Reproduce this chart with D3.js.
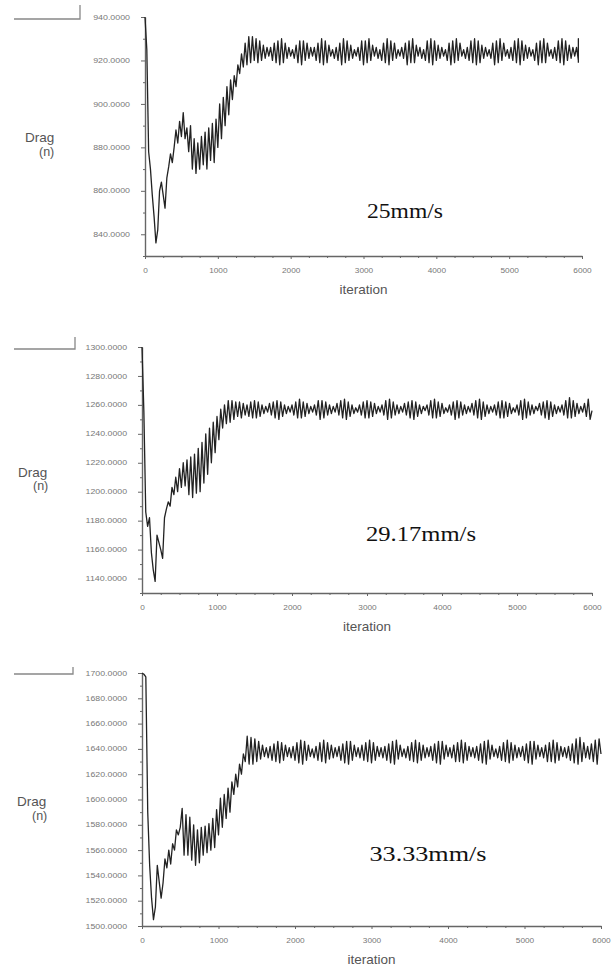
<!DOCTYPE html>
<html>
<head>
<meta charset="utf-8">
<script src="https://cdn.jsdelivr.net/npm/d3@7"></script>
<style>
  body { margin: 0; background: #fff; }
  svg { display: block; }
</style>
</head>
<body>
<div id="chart"></div>
<script>
// iteration spacing of the sampled drag values
const iterStep = 25;
const xTicks = [0, 1000, 2000, 3000, 4000, 5000, 6000];

// 25 mm/s
const drag25 = [
  940, 925, 878, 870, 858, 848, 836, 842, 860, 864, 858, 852,
  866, 871, 877, 873, 880, 888, 882, 892, 885, 896, 884, 889,
  878, 890, 870, 884, 868, 882, 870, 885, 872, 887, 870, 889,
  874, 891, 873, 893, 880, 900, 884, 903, 890, 908, 895, 911,
  902, 913, 908, 918, 914, 923, 917, 928, 918, 931, 919, 931,
  920, 930, 919, 929, 920, 927, 921, 926, 922, 926, 920, 928,
  919, 929, 918, 930, 919, 928, 921, 926, 922, 925, 921, 927,
  919, 929, 918, 929, 920, 928, 921, 926, 922, 926, 920, 928,
  919, 930, 918, 929, 919, 927, 922, 925, 921, 926, 920, 928,
  918, 930, 919, 929, 920, 927, 921, 925, 922, 926, 920, 929,
  918, 929, 919, 930, 920, 927, 922, 926, 921, 925, 920, 928,
  919, 930, 918, 929, 920, 928, 921, 925, 922, 926, 921, 928,
  918, 929, 919, 930, 919, 927, 922, 926, 921, 925, 920, 929,
  919, 930, 918, 929, 920, 927, 921, 926, 922, 925, 920, 928,
  918, 929, 919, 930, 920, 928, 922, 925, 921, 926, 920, 929,
  919, 930, 918, 929, 919, 927, 921, 926, 922, 925, 921, 928,
  918, 929, 919, 930, 920, 928, 922, 925, 921, 926, 920, 929,
  919, 930, 918, 929, 920, 927, 921, 926, 922, 925, 920, 928,
  918, 929, 919, 930, 919, 928, 922, 925, 921, 926, 920, 929,
  919, 930, 918, 929, 920, 927, 921, 926, 922, 926, 920, 930,
  919
];
const yTicks25 = [840, 860, 880, 900, 920, 940];

// 29.17 mm/s
const drag29 = [
  1300, 1255, 1186, 1176, 1182, 1158, 1146, 1138, 1170, 1165, 1160, 1154,
  1182, 1188, 1193, 1190, 1203, 1198, 1210, 1200, 1216, 1203, 1220, 1204,
  1222, 1198, 1224, 1196, 1226, 1199, 1230, 1200, 1234, 1206, 1240, 1212,
  1244, 1220, 1248, 1227, 1252, 1236, 1257, 1244, 1260, 1247, 1263, 1248,
  1263, 1250, 1262, 1252, 1262, 1251, 1261, 1253, 1260, 1252, 1262, 1251,
  1263, 1251, 1262, 1252, 1260, 1254, 1259, 1255, 1261, 1253, 1262, 1251,
  1263, 1250, 1262, 1252, 1260, 1254, 1259, 1255, 1260, 1253, 1262, 1251,
  1264, 1251, 1262, 1252, 1261, 1254, 1259, 1255, 1260, 1253, 1263, 1250,
  1263, 1251, 1262, 1253, 1260, 1254, 1259, 1255, 1261, 1253, 1263, 1251,
  1264, 1250, 1262, 1252, 1260, 1254, 1258, 1255, 1260, 1253, 1262, 1251,
  1263, 1251, 1262, 1252, 1261, 1254, 1259, 1255, 1260, 1253, 1263, 1250,
  1264, 1251, 1262, 1253, 1260, 1254, 1259, 1255, 1261, 1253, 1262, 1251,
  1263, 1250, 1262, 1252, 1260, 1254, 1259, 1256, 1260, 1253, 1263, 1251,
  1264, 1251, 1262, 1252, 1261, 1254, 1258, 1255, 1260, 1253, 1262, 1250,
  1263, 1251, 1262, 1253, 1260, 1254, 1259, 1255, 1261, 1253, 1263, 1251,
  1264, 1250, 1262, 1252, 1260, 1254, 1259, 1255, 1260, 1253, 1262, 1251,
  1263, 1251, 1262, 1252, 1261, 1254, 1258, 1255, 1260, 1253, 1263, 1250,
  1264, 1251, 1262, 1253, 1260, 1254, 1259, 1256, 1261, 1253, 1262, 1251,
  1263, 1250, 1262, 1252, 1260, 1254, 1259, 1255, 1260, 1253, 1263, 1251,
  1265, 1251, 1263, 1252, 1261, 1254, 1259, 1255, 1261, 1252, 1264, 1250,
  1256
];
const yTicks29 = [1140, 1160, 1180, 1200, 1220, 1240, 1260, 1280, 1300];

// 33.33 mm/s
const drag33 = [
  1700, 1699, 1697, 1590, 1548, 1522, 1505, 1515, 1548, 1535, 1522, 1534,
  1553, 1546, 1560, 1549, 1565, 1560, 1576, 1572, 1578, 1593, 1556, 1588,
  1556, 1586, 1552, 1580, 1548, 1576, 1550, 1578, 1556, 1579, 1558, 1581,
  1560, 1585, 1562, 1592, 1572, 1601, 1578, 1604, 1585, 1609, 1590, 1614,
  1604, 1620, 1610, 1628, 1620, 1636, 1630, 1650, 1628, 1649, 1628, 1648,
  1630, 1646, 1632, 1643, 1634, 1641, 1633, 1642, 1631, 1644, 1630, 1646,
  1629, 1645, 1631, 1643, 1634, 1641, 1633, 1642, 1631, 1645, 1629, 1647,
  1628, 1646, 1631, 1643, 1634, 1640, 1633, 1642, 1631, 1645, 1630, 1647,
  1629, 1645, 1632, 1643, 1633, 1641, 1634, 1642, 1631, 1644, 1629, 1646,
  1628, 1646, 1631, 1643, 1634, 1641, 1633, 1643, 1631, 1645, 1630, 1647,
  1629, 1645, 1631, 1642, 1634, 1641, 1633, 1642, 1631, 1644, 1629, 1646,
  1628, 1647, 1632, 1643, 1634, 1640, 1633, 1642, 1631, 1645, 1630, 1647,
  1629, 1645, 1631, 1643, 1633, 1641, 1634, 1642, 1631, 1644, 1629, 1646,
  1628, 1646, 1632, 1643, 1634, 1641, 1633, 1643, 1630, 1645, 1630, 1647,
  1629, 1645, 1631, 1642, 1634, 1641, 1633, 1642, 1631, 1644, 1629, 1646,
  1628, 1647, 1632, 1643, 1634, 1640, 1633, 1642, 1631, 1645, 1630, 1647,
  1629, 1645, 1631, 1643, 1633, 1641, 1634, 1642, 1631, 1644, 1629, 1646,
  1628, 1646, 1632, 1643, 1634, 1641, 1633, 1643, 1630, 1645, 1630, 1647,
  1629, 1645, 1631, 1642, 1634, 1641, 1633, 1642, 1631, 1644, 1629, 1648,
  1628, 1649, 1630, 1645, 1633, 1642, 1632, 1644, 1630, 1647, 1628, 1648,
  1636
];
const yTicks33 = [1500, 1520, 1540, 1560, 1580, 1600, 1620, 1640, 1660, 1680, 1700];

const speeds = ["25mm/s", "29.17mm/s", "33.33mm/s"];

const width = 612, height = 971;
const axisColor = '#666';
const sans = 'Liberation Sans, Arial, sans-serif';
const fmt = d3.format('.4f');

// where each panel sits on the page
const panels = [
  { data: drag25, ticks: yTicks25, domain: [830, 940], speed: speeds[0],
    left: 145, right: 582, top: 17, bottom: 256, end: 5950,
    corner: [14, 80, 19, 5], drag: [25, 142, 39, 156],
    speedXY: [405, 218], speedLen: 76 },
  { data: drag29, ticks: yTicks29, domain: [1130, 1300], speed: speeds[1],
    left: 142, right: 592, top: 347, bottom: 593, end: 6000,
    corner: [14, 75, 349, 337], drag: [18, 477, 33, 490],
    speedXY: [421, 541], speedLen: 110 },
  { data: drag33, ticks: yTicks33, domain: [1500, 1700], speed: speeds[2],
    left: 142, right: 601, top: 673, bottom: 926, end: 6000,
    corner: [14, 73, 674, 667], drag: [17, 806, 32, 820],
    speedXY: [428, 861], speedLen: 117 }
];

const svg = d3.select('#chart')
  .append('svg')
    .attr('width', width)
    .attr('height', height)
    .attr('viewBox', [0, 0, width, height]);

panels.forEach(p => {
  const x = d3.scaleLinear().domain([0, 6000]).range([p.left, p.right]);
  const y = d3.scaleLinear().domain(p.domain).range([p.bottom, p.top]);
  const g = svg.append('g');

  // little corner bracket at the top left
  g.append('path')
    .attr('d', `M${p.corner[0]},${p.corner[2]}H${p.corner[1]}V${p.corner[3]}`)
    .attr('fill', 'none')
    .attr('stroke', '#888')
    .attr('stroke-width', 1.3);

  // y axis: major ticks with labels, minor ticks every 10
  g.append('g')
    .attr('class', 'yaxis')
    .attr('transform', `translate(${p.left},0)`)
    .call(d3.axisLeft(y).tickValues(p.ticks).tickFormat(fmt).tickSize(4).tickPadding(11).tickSizeOuter(0));
  g.append('g')
    .attr('transform', `translate(${p.left},0)`)
    .call(d3.axisLeft(y).tickValues(d3.range(p.domain[0], p.domain[1] + 1, 10).filter(v => !p.ticks.includes(v)))
      .tickFormat('').tickSize(2).tickSizeOuter(0))
    .select('.domain').remove();

  // x axis
  g.append('g')
    .attr('class', 'xaxis')
    .attr('transform', `translate(0,${p.bottom})`)
    .call(d3.axisBottom(x).tickValues(xTicks).tickFormat(d3.format('d')).tickSize(3).tickPadding(9).tickSizeOuter(0));
  g.append('g')
    .attr('transform', `translate(0,${p.bottom})`)
    .call(d3.axisBottom(x).tickValues(d3.range(250, 6000, 250).filter(v => v % 1000)).tickFormat('').tickSize(2).tickSizeOuter(0))
    .select('.domain').remove();

  g.selectAll('.tick line')
    .attr('stroke', axisColor)
    .attr('stroke-width', 1);
  g.selectAll('.domain')
    .attr('stroke', axisColor)
    .attr('stroke-width', 1.4);
  g.selectAll('.tick text')
    .attr('fill', '#777')
    .attr('font-family', sans)
    .attr('font-size', 6.5)
    .attr('lengthAdjust', 'spacingAndGlyphs')
    .attr('textLength', function () { return this.textContent.length * 4.6; });

  // drag trace
  const line = d3.line()
    .x((d, i) => x(Math.min(i * iterStep, p.end)))
    .y(d => y(d));
  g.append('path')
    .datum(p.data)
    .attr('fill', 'none')
    .attr('stroke', '#222')
    .attr('stroke-width', 1.3)
    .attr('stroke-linejoin', 'round')
    .attr('d', line);

  // axis titles
  g.append('text')
    .attr('x', p.drag[0])
    .attr('y', p.drag[1])
    .attr('font-family', sans)
    .attr('font-size', 13.5)
    .attr('fill', '#555')
    .text('Drag');
  g.append('text')
    .attr('x', p.drag[2])
    .attr('y', p.drag[3])
    .attr('font-family', sans)
    .attr('font-size', 12.5)
    .attr('fill', '#555')
    .text('(n)');
  g.append('text')
    .attr('x', (p.left + p.right) / 2)
    .attr('y', p.bottom + 38)
    .attr('text-anchor', 'middle')
    .attr('font-family', sans)
    .attr('font-size', 13.5)
    .attr('fill', '#555')
    .text('iteration');

  // speed annotation
  g.append('text')
    .attr('x', p.speedXY[0])
    .attr('y', p.speedXY[1])
    .attr('text-anchor', 'middle')
    .attr('font-family', 'Liberation Serif, Times New Roman, serif')
    .attr('font-size', 20)
    .attr('fill', '#111')
    .attr('lengthAdjust', 'spacingAndGlyphs')
    .attr('textLength', p.speedLen)
    .text(p.speed);
});
</script>
</body>
</html>
